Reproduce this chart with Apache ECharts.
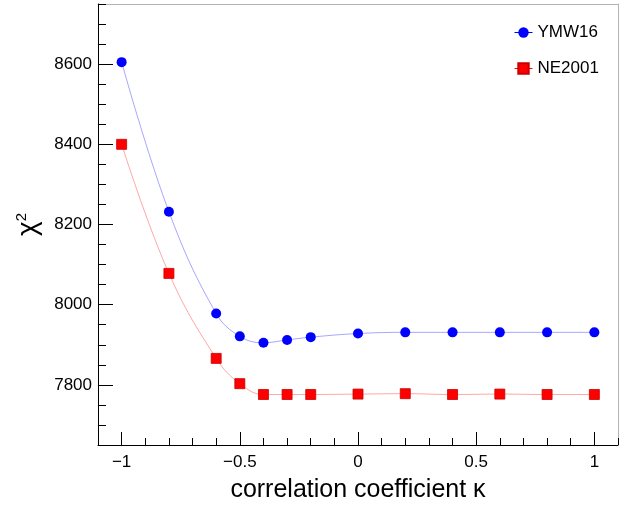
<!DOCTYPE html>
<html>
<head>
<meta charset="utf-8">
<script src="https://cdn.jsdelivr.net/npm/echarts@6/dist/echarts.min.js"></script>
<style>
  html, body { margin: 0; padding: 0; background: #ffffff; }
  #chart { width: 629px; height: 508px; }
</style>
</head>
<body>
<div id="chart"></div>
<script>
// Correlation coefficient kappa and chi-square for two electron density models
const kappa  = [-1, -0.8, -0.6, -0.5, -0.4, -0.3, -0.2, 0, 0.2, 0.4, 0.6, 0.8, 1];
const ymw16  = [8605, 8232, 7978, 7921, 7905, 7912, 7919, 7928, 7931, 7931, 7931, 7931, 7931];
const ne2001 = [8400, 8078, 7866, 7803, 7776, 7776, 7776, 7777, 7778, 7776, 7777, 7776, 7776];

const xMajorTicks = [-1, -0.5, 0, 0.5, 1];
const yMajorTicks = [7800, 8000, 8200, 8400, 8600];

const FONT = '"Liberation Sans", Arial, Helvetica, sans-serif';

function pairs(xs, ys) { return xs.map((x, i) => [x, ys[i]]); }
function fmtX(v) {
  const r = Math.round(v * 10) / 10;
  return r < 0 ? '\u2212' + String(-r) : String(r);
}
function fmtY(v) { return String(Math.round(v)); }

const chart = echarts.init(document.getElementById('chart'), null, { renderer: 'canvas' });

const hidden = { show: false };

chart.setOption({
  animation: false,
  backgroundColor: '#ffffff',
  grid: { left: 98, right: 11, top: 4, bottom: 63, containLabel: false },
  legend: {
    orient: 'vertical',
    left: 514,
    top: 24,
    padding: 0,
    itemGap: 19,
    itemWidth: 18,
    itemHeight: 13,
    textStyle: { fontFamily: FONT, fontSize: 17, color: '#000000', padding: [0, 0, 0, 0] },
    data: [
      { name: 'YMW16', lineStyle: { color: '#0000ff', opacity: 1, width: 1 } },
      { name: 'NE2001', lineStyle: { color: '#ff0000', opacity: 1, width: 1 } }
    ]
  },
  xAxis: [
    {
      type: 'value', position: 'bottom', min: -1.1, max: 1.1,
      name: 'correlation coefficient \u03ba',
      nameLocation: 'middle', nameGap: 33,
      nameTextStyle: { fontFamily: FONT, fontSize: 25, color: '#000000' },
      axisLine: { show: true, onZero: false, lineStyle: { color: '#000000', width: 1 } },
      axisTick: { show: true, inside: true, length: 13, customValues: xMajorTicks, lineStyle: { color: '#000000' } },
      axisLabel: { show: true, customValues: xMajorTicks, formatter: fmtX, margin: 9,
                   fontFamily: FONT, fontSize: 17, color: '#000000' },
      splitLine: hidden
    },
    {
      // minor ticks every 0.1
      type: 'value', position: 'bottom', min: -1.1, max: 1.1, interval: 0.1,
      axisLine: { show: false, onZero: false },
      axisTick: { show: true, inside: true, length: 7, lineStyle: { color: '#000000' } },
      axisLabel: hidden, splitLine: hidden
    },
    {
      // top frame edge
      type: 'value', position: 'top', min: -1.1, max: 1.1,
      axisLine: { show: true, onZero: false, lineStyle: { color: '#b4b4b4', width: 1 } },
      axisTick: hidden, axisLabel: hidden, splitLine: hidden
    }
  ],
  yAxis: [
    {
      type: 'value', position: 'left', min: 7650, max: 8750,
      name: '{c|\u03c7}{s|2}',
      nameLocation: 'middle', nameGap: 56, nameRotate: 90,
      nameTextStyle: {
        fontFamily: FONT, fontSize: 26, color: '#000000',
        rich: {
          c: { fontFamily: FONT, fontSize: 28, color: '#000000' },
          s: { fontFamily: FONT, fontSize: 15, color: '#000000', verticalAlign: 'top', padding: [0, 0, 12, 0] }
        }
      },
      axisLine: { show: true, onZero: false, lineStyle: { color: '#000000', width: 1 } },
      axisTick: { show: true, inside: true, length: 15, customValues: yMajorTicks, lineStyle: { color: '#000000' } },
      axisLabel: { show: true, customValues: yMajorTicks, formatter: fmtY, margin: 6,
                   fontFamily: FONT, fontSize: 17, color: '#000000' },
      splitLine: hidden
    },
    {
      // minor ticks every 50
      type: 'value', position: 'left', min: 7650, max: 8750, interval: 50,
      axisLine: { show: false, onZero: false },
      axisTick: { show: true, inside: true, length: 8, lineStyle: { color: '#000000' } },
      axisLabel: hidden, splitLine: hidden
    },
    {
      // right frame edge
      type: 'value', position: 'right', min: 7650, max: 8750,
      axisLine: { show: true, onZero: false, lineStyle: { color: '#b4b4b4', width: 1 } },
      axisTick: hidden, axisLabel: hidden, splitLine: hidden
    }
  ],
  series: [
    {
      name: 'YMW16', type: 'line', xAxisIndex: 0, yAxisIndex: 0,
      data: pairs(kappa, ymw16),
      smooth: 0.4,
      symbol: 'circle', symbolSize: 10,
      lineStyle: { color: '#0000ff', width: 1, opacity: 0.35 },
      itemStyle: { color: '#0000ff', borderWidth: 0 },
      z: 3
    },
    {
      name: 'NE2001', type: 'line', xAxisIndex: 0, yAxisIndex: 0,
      data: pairs(kappa, ne2001),
      smooth: 0.4,
      symbol: 'rect', symbolSize: 10,
      lineStyle: { color: '#ff0000', width: 1, opacity: 0.35 },
      itemStyle: { color: '#ff0000', borderColor: '#c80000', borderWidth: 0.8 },
      z: 3
    }
  ]
});
</script>
</body>
</html>
